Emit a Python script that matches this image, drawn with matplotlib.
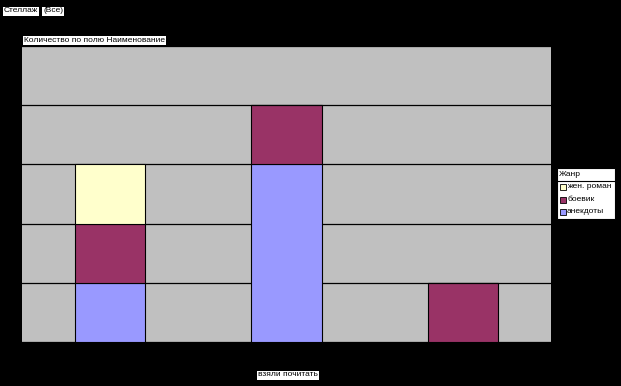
import matplotlib
matplotlib.use("Agg")
import matplotlib.pyplot as plt
from matplotlib.patches import Rectangle
import numpy as np

plt.rcParams['font.family'] = ['Liberation Sans', 'DejaVu Sans']

# data
categories = ["", "", ""]
genres = ["анекдоты", "боевик", "жен. роман"]
values = {
    "анекдоты": [1, 3, 0],
    "боевик": [1, 1, 1],
    "жен. роман": [1, 0, 0],
}
colors = {"анекдоты": "#9999FF", "боевик": "#993366", "жен. роман": "#FFFFCC"}

fig = plt.figure(figsize=(6.21, 3.86), dpi=100)
fig.patch.set_facecolor("black")
ax = fig.add_axes([22 / 621, 44 / 386, 529 / 621, 296 / 386])
ax.set_facecolor("#C0C0C0")

x = np.arange(len(categories))
bottom = np.zeros(len(categories))
for g in genres:
    v = np.array(values[g], dtype=float)
    ax.bar(x, v, 0.4, bottom=bottom, color=colors[g], edgecolor="black",
           linewidth=0.8, zorder=3)
    bottom += v

ax.set_xlim(-0.5, 2.5)
ax.set_ylim(0, 5)
ax.set_yticks(range(6))
ax.yaxis.grid(True, color="black", linewidth=0.9, zorder=1)
ax.set_axisbelow(True)
ax.set_xticks([])
ax.tick_params(left=False, labelleft=False)
for s in ax.spines.values():
    s.set_visible(False)

box = dict(facecolor="white", edgecolor="none", pad=0.7)
fs = 6.0
fig.text(4 / 621, 1 - 11 / 386, "Стеллаж", fontsize=fs, va="center", ha="left", bbox=box)
fig.text(43 / 621, 1 - 11 / 386, "(Все)", fontsize=fs, va="center", ha="left", bbox=box)
fig.text(24 / 621, 1 - 40 / 386, "Количество по полю Наименование", fontsize=fs,
         va="center", ha="left", bbox=box)
fig.text(258 / 621, 1 - 375 / 386, "взяли почитать", fontsize=fs, va="center",
         ha="left", bbox=box)

# legend drawn by hand in pixel coords
def px(xp, yp):
    return xp / 621, 1 - yp / 386

lx0, ly0, lx1, ly1 = 557, 168, 615, 219
fig.patches.append(Rectangle(px(lx0, ly1), (lx1 - lx0) / 621, (ly1 - ly0) / 386,
                             transform=fig.transFigure, facecolor="white",
                             edgecolor="black", linewidth=0.8))
fig.text(*px(559, 174), "Жанр", fontsize=fs, va="center", ha="left")
fig.add_artist(plt.Line2D([lx0 / 621, lx1 / 621], [1 - 180.5 / 386] * 2,
                          transform=fig.transFigure, color="black", linewidth=0.8))
for i, g in enumerate(reversed(genres)):
    yc = 187 + i * 12.5
    fig.patches.append(Rectangle(px(560, yc + 3), 6 / 621, 6 / 386,
                                 transform=fig.transFigure, facecolor=colors[g],
                                 edgecolor="black", linewidth=0.6))
    fig.text(*px(567, yc), g, fontsize=fs, va="center", ha="left")

fig.savefig("out.png", dpi=100, facecolor=fig.get_facecolor())
